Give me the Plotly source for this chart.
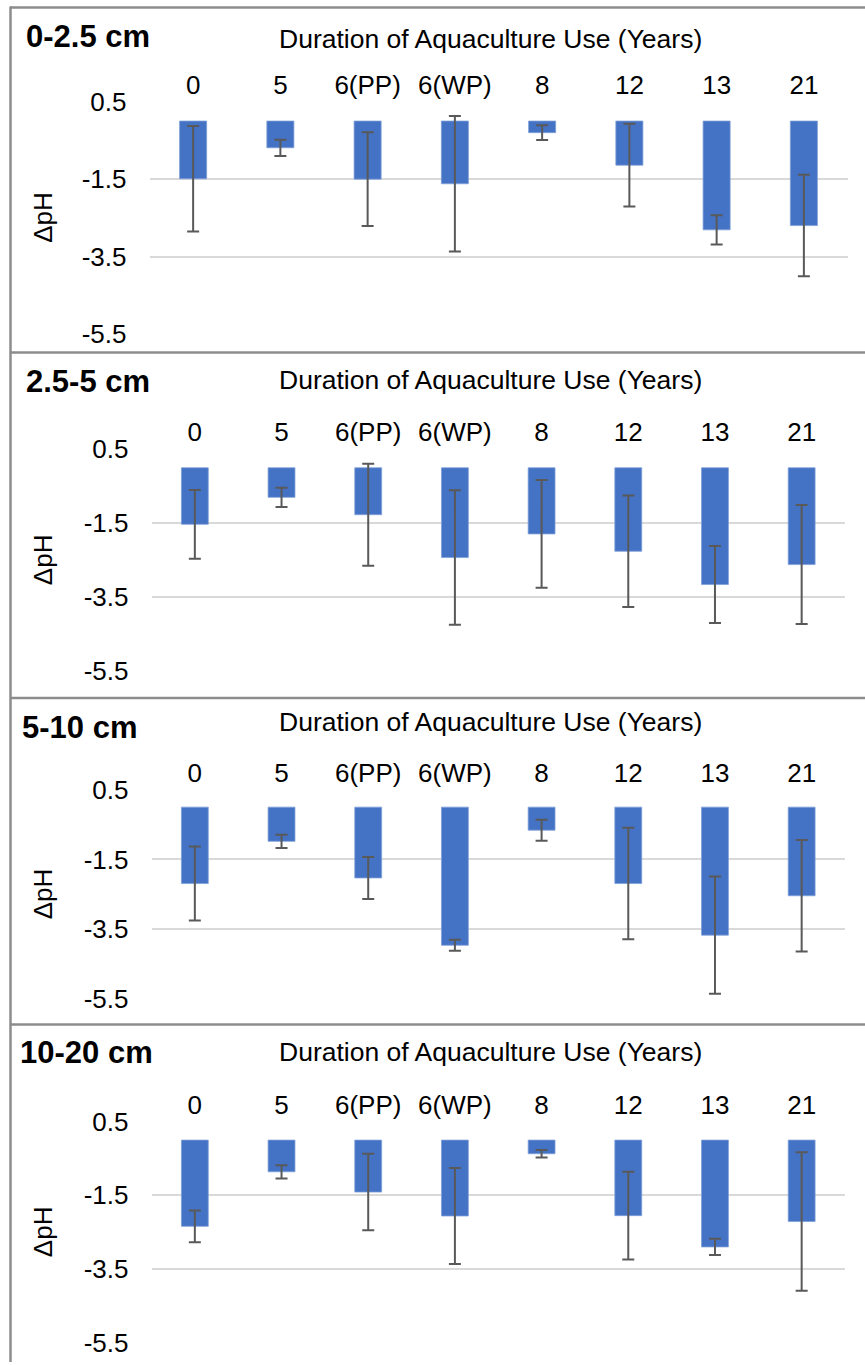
import plotly.graph_objects as go

W, H = 865, 1365

categories = ["0", "5", "6(PP)", "6(WP)", "8", "12", "13", "21"]
depth_labels = ["0-2.5 cm", "2.5-5 cm", "5-10 cm", "10-20 cm"]

dph_0_25 = [-1.49, -0.69, -1.50, -1.62, -0.30, -1.14, -2.81, -2.70]
err_0_25 = [1.36, 0.21, 1.21, 1.75, 0.19, 1.07, 0.38, 1.31]

dph_25_5 = [-1.53, -0.80, -1.27, -2.43, -1.79, -2.26, -3.16, -2.62]
err_25_5 = [0.93, 0.26, 1.38, 1.82, 1.46, 1.51, 1.04, 1.61]

dph_5_10 = [-2.19, -0.98, -2.03, -3.96, -0.66, -2.19, -3.67, -2.54]
err_5_10 = [1.06, 0.19, 0.60, 0.16, 0.30, 1.60, 1.68, 1.60]

dph_10_20 = [-2.34, -0.86, -1.41, -2.06, -0.37, -2.05, -2.90, -2.21]
err_10_20 = [0.43, 0.18, 1.04, 1.30, 0.10, 1.19, 0.22, 1.88]

y_ticks = [0.5, -1.5, -3.5, -5.5]

series = [(dph_0_25, err_0_25), (dph_25_5, err_25_5), (dph_5_10, err_5_10), (dph_10_20, err_10_20)]

# pixel layout of each panel (plot area top / bottom, left / right, border top)
panels = [
    dict(top=101.7, bot=334.0, left=149.5, right=847.5, border=7.5, label_y=36, title_y=39, label_x=24),
    dict(top=449.3, bot=671.0, left=151.5, right=845.0, border=352.5, label_y=381, title_y=380, label_x=24),
    dict(top=789.7, bot=999.0, left=151.5, right=845.0, border=698.0, label_y=727, title_y=722, label_x=20),
    dict(top=1121.7, bot=1342.7, left=151.5, right=845.0, border=1024.5, label_y=1052, title_y=1052, label_x=18),
]

def fx(x):
    return x / W

def fy(y):
    return 1 - y / H

FONT = "Liberation Sans, Arial, sans-serif"
fig = go.Figure()
annotations = []
shapes = []

for i, ((vals, errs), p) in enumerate(zip(series, panels)):
    n = "" if i == 0 else str(i + 1)
    fig.add_trace(go.Bar(
        x=categories, y=vals,
        xaxis="x" + n, yaxis="y" + n,
        marker=dict(color="#4472C4", line=dict(color="#7F9FD8", width=0.8)),
        error_y=dict(type="data", array=errs, visible=True,
                     color="#595959", thickness=2, width=6),
        showlegend=False,
    ))
    xa = dict(
        domain=[fx(p["left"]), fx(p["right"])],
        anchor="y" + n, side="top", type="category",
        showgrid=False, showline=False, zeroline=False, ticks="",
        tickfont=dict(family=FONT, size=26, color="#000000"),
        ticklabelstandoff=2, automargin=False,
    )
    ya = dict(
        domain=[fy(p["bot"]), fy(p["top"])],
        anchor="x" + n, range=[-5.5, 0.5],
        tickmode="array", tickvals=y_ticks, ticktext=[str(v) for v in y_ticks],
        showgrid=True, gridcolor="#D9D9D9", gridwidth=1.5,
        zeroline=False, showline=False, ticks="",
        tickfont=dict(family=FONT, size=26, color="#000000"),
        ticklabelstandoff=22, automargin=False,
    )
    fig.update_layout(**{"xaxis" + n: xa, "yaxis" + n: ya})

    annotations.append(dict(
        text="<b>" + depth_labels[i] + "</b>", x=fx(p["label_x"]), y=fy(p["label_y"]),
        xref="paper", yref="paper", xanchor="left", yanchor="middle",
        showarrow=False, font=dict(family=FONT, size=31, color="#000000")))
    annotations.append(dict(
        text="Duration of Aquaculture Use (Years)", x=fx(490), y=fy(p["title_y"]),
        xref="paper", yref="paper", xanchor="center", yanchor="middle",
        showarrow=False, font=dict(family=FONT, size=26.5, color="#000000")))
    annotations.append(dict(
        text="ΔpH", x=fx(43), y=fy((p["top"] + p["bot"]) / 2),
        xref="paper", yref="paper", xanchor="center", yanchor="middle",
        textangle=-90, showarrow=False,
        font=dict(family=FONT, size=26, color="#000000")))
    shapes.append(dict(type="line", xref="paper", yref="paper",
                       x0=fx(10), x1=1.0, y0=fy(p["border"]), y1=fy(p["border"]),
                       line=dict(color="#8C8C8C", width=2.5)))

shapes.append(dict(type="line", xref="paper", yref="paper",
                   x0=fx(10.5), x1=fx(10.5), y0=fy(6.5), y1=fy(1362),
                   line=dict(color="#8C8C8C", width=2.5)))

fig.update_layout(
    width=W, height=H,
    margin=dict(l=0, r=0, t=0, b=0, autoexpand=False),
    paper_bgcolor="white", plot_bgcolor="white",
    bargap=0.69,
    annotations=annotations, shapes=shapes,
    font=dict(family=FONT),
)

fig.write_html("out.html")
